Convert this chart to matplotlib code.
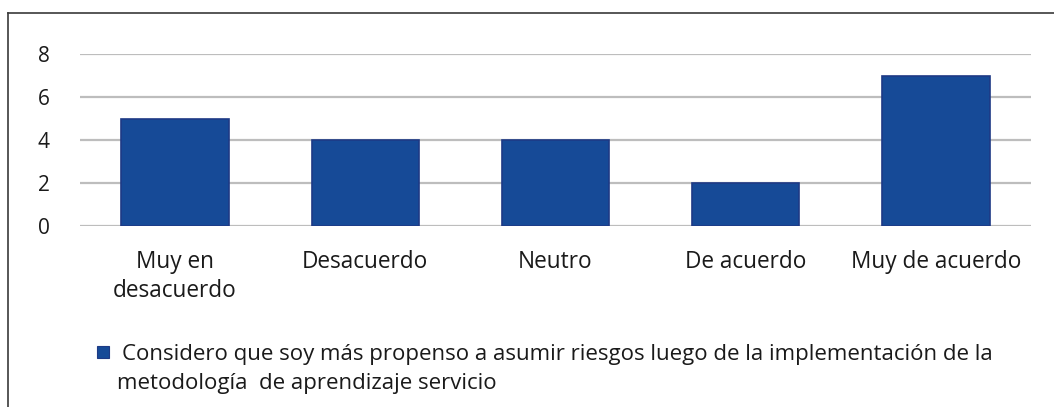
import matplotlib
matplotlib.use("Agg")
import matplotlib.pyplot as plt
from matplotlib.patches import Rectangle
from matplotlib.lines import Line2D

categories = ["Muy en\ndesacuerdo", "Desacuerdo", "Neutro", "De acuerdo", "Muy de acuerdo"]
values = [5, 4, 4, 2, 7]
yticks = [0, 2, 4, 6, 8]
series_label_lines = ["Considero que soy más propenso a asumir riesgos luego de la implementación de la",
                      "metodología  de aprendizaje servicio"]

plt.rcParams['font.family'] = ['Open Sans', 'DejaVu Sans']

W, H = 1054, 407
fig = plt.figure(figsize=(W / 100, H / 100), dpi=100)
fig.patch.set_facecolor('white')

ax = fig.add_axes([80 / W, (H - 226) / H, (1031 - 80) / W, (226 - 54) / H])
x = list(range(len(categories)))
ax.bar(x, values, width=0.565, color='#164A97', edgecolor='#1E3A85', linewidth=1.2, zorder=3)
ax.set_xlim(-0.5, len(categories) - 0.5)
ax.set_ylim(0, 8)
ax.set_yticks(yticks)
ax.set_yticklabels([str(t) for t in yticks], fontsize=15, color='#1a1a1a')
ax.set_xticks(x)
ax.set_xticklabels(categories, fontsize=16.3, color='#1a1a1a', linespacing=1.32)
ax.tick_params(axis='y', length=0, pad=22)
ax.tick_params(axis='x', length=0, pad=17)
for t in yticks:
    ax.axhline(t, color='#BDBDBD', linewidth=1.6, zorder=1)
for s in ax.spines.values():
    s.set_visible(False)
ax.set_facecolor('white')

# Legend
fig.patches.append(Rectangle((97 / W, (H - 358) / H), 12 / W, 12 / H,
                             transform=fig.transFigure, facecolor='#164A97',
                             edgecolor='#1E3A85', linewidth=0.8))
fig.text(122 / W, (H - 352) / H, series_label_lines[0], fontsize=16, color='#1a1a1a',
         va='center_baseline', ha='left', transform=fig.transFigure)
fig.text(117 / W, (H - 381) / H, series_label_lines[1], fontsize=16, color='#1a1a1a',
         va='center_baseline', ha='left', transform=fig.transFigure)

# Frame lines
fig.lines.append(Line2D([8 / W, 1], [(H - 13) / H, (H - 13) / H], transform=fig.transFigure,
                        color='#3a3a3a', linewidth=1.2))
fig.lines.append(Line2D([8 / W, 8 / W], [0, (H - 13) / H], transform=fig.transFigure,
                        color='#3a3a3a', linewidth=1.2))

fig.savefig("out.png", dpi=100)
